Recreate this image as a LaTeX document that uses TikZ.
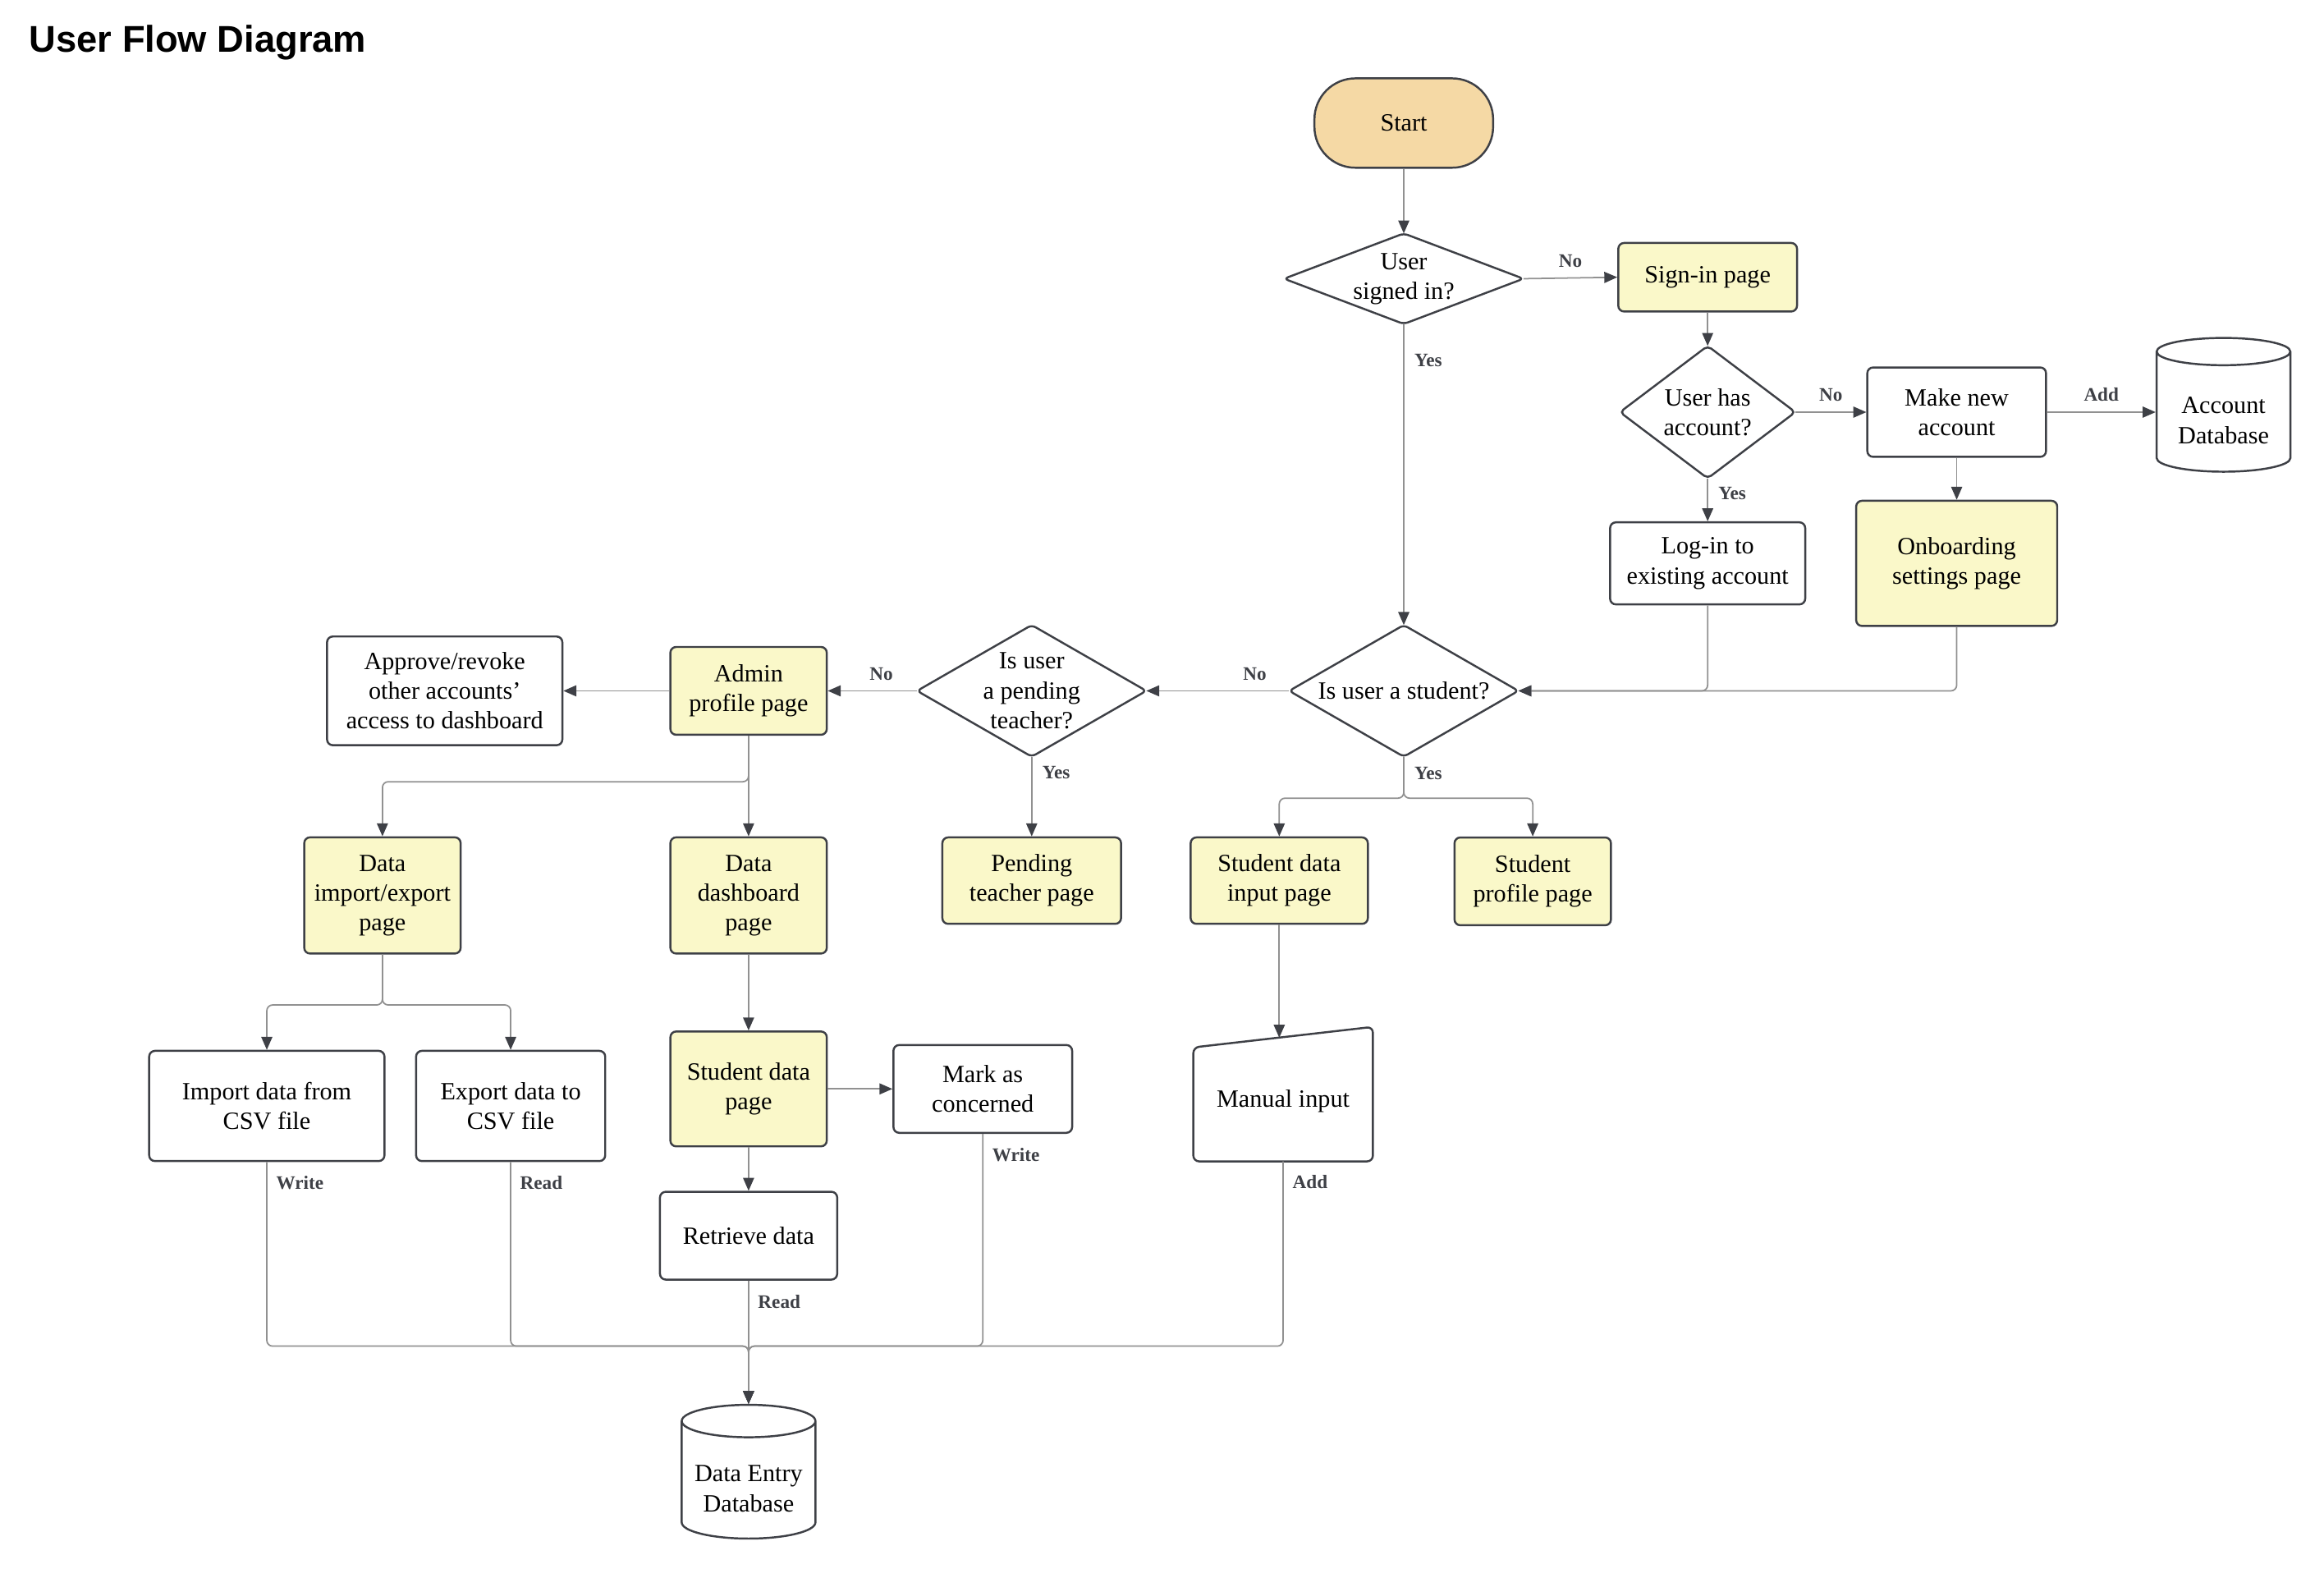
\documentclass[tikz,border=0pt]{standalone}
\usepackage{fontspec}
\setmainfont{Liberation Serif}
\setsansfont{Liberation Sans}
\usetikzlibrary{arrows.meta,shapes.geometric}
\definecolor{edgegray}{RGB}{62,64,70}
\definecolor{linegray}{RGB}{145,145,145}
\definecolor{pageyellow}{RGB}{250,248,201}
\definecolor{startorange}{RGB}{245,217,165}
\begin{document}
\begin{tikzpicture}[>={Stealth[length=4.5pt,width=3.8pt,inset=0pt,color=edgegray]},x=0.01806cm,y=-0.01806cm,
    font=\fontsize{8.6}{10.3}\selectfont,
    box/.style={draw=edgegray,line width=0.7pt,rounded corners=2pt,align=center,inner sep=1pt,fill=white},
    page/.style={box,fill=pageyellow},
    decision/.style={align=center,inner sep=0pt},
    store/.style={cylinder,shape border rotate=90,aspect=0.3,draw=edgegray,line width=0.7pt,
        minimum width=1.63cm,minimum height=1.63cm,align=center,inner sep=0pt,text height=21.8pt},
    link/.style={draw=linegray,line width=0.5pt,rounded corners=2pt},
    lab/.style={font=\fontsize{6.6}{8}\selectfont\bfseries,text=edgegray,inner sep=1.5pt}]
    \useasboundingbox (0,0) rectangle (1567.8,1063.9);
    \node[anchor=west,inner sep=0pt,font=\sffamily\bfseries\fontsize{12.9}{15}\selectfont] (title) at (19.4,29) {User Flow Diagram};
    % top right part
    \node[box,fill=startorange,minimum width=2.178cm,minimum height=1.089cm,rounded corners=0.5cm] (start) at (947,83) {Start};
    \node[decision,minimum width=2.904cm,minimum height=1.089cm] (signed) at (947,188) {User\\signed in?};
    \node[page,minimum width=2.178cm,minimum height=0.835cm] (signin) at (1152,187) {Sign-in page};
    \node[decision,minimum width=2.124cm,minimum height=1.6cm] (hasacc) at (1152,278) {User has\\account?};
    \node[box,minimum width=2.178cm,minimum height=1.089cm] (newacc) at (1320,278) {Make new\\account};
    \node[store] (accdb) at (1500,278) {Account\\Database};
    \node[box,minimum width=2.378cm,minimum height=1.0cm] (login) at (1152,380) {Log-in to\\existing account};
    \node[page,minimum width=2.45cm,minimum height=1.525cm] (onboard) at (1320,380) {Onboarding\\settings page};
    % middle row
    \node[decision,minimum width=2.78cm,minimum height=1.59cm] (stud) at (947,466) {Is user a student?};
    \node[decision,minimum width=2.78cm,minimum height=1.59cm] (pend) at (696,466) {Is user\\a pending\\teacher?};
    \node[page,minimum width=1.906cm,minimum height=1.07cm] (admin) at (505,466) {Admin\\profile page};
    \node[box,minimum width=2.868cm,minimum height=1.325cm] (approve) at (300,466) {Approve/revoke\\other accounts’\\access to dashboard};
    \node[page,minimum width=1.906cm,minimum height=1.416cm] (impexp) at (258,604) {Data\\import/export\\page};
    \node[page,minimum width=1.906cm,minimum height=1.416cm] (dash) at (505,604) {Data\\dashboard\\page};
    \node[page,minimum width=2.178cm,minimum height=1.053cm] (pendpage) at (696,594) {Pending\\teacher page};
    \node[page,minimum width=2.16cm,minimum height=1.053cm] (sdinput) at (863,594) {Student data\\input page};
    \node[page,minimum width=1.906cm,minimum height=1.07cm] (sprofile) at (1034,594.5) {Student\\profile page};
    % bottom part
    \node[box,minimum width=2.868cm,minimum height=1.343cm] (import) at (180,746) {Import data from\\CSV file};
    \node[box,minimum width=2.305cm,minimum height=1.343cm] (export) at (344.5,746) {Export data to\\CSV file};
    \node[page,minimum width=1.906cm,minimum height=1.4cm] (sdpage) at (505,734.5) {Student data\\page};
    \node[box,minimum width=2.178cm,minimum height=1.07cm] (concern) at (663,734.5) {Mark as\\concerned};
    \node[minimum width=2.174cm,minimum height=1.445cm,inner sep=0pt] (manual) at (865.6,743) {Manual input};
    \draw[edgegray,line width=0.7pt,rounded corners=2pt] (manual.south west) -- (manual.south east)
        -- ([yshift=0.18cm]manual.north east) -- ([yshift=-0.07cm]manual.north west) -- cycle;
    \node[box,minimum width=2.16cm,minimum height=1.07cm] (retrieve) at (505,833.5) {Retrieve data};
    \node[store] (dedb) at (505,998.5) {Data Entry\\Database};
    \coordinate (bus) at (505,908);
    \coordinate (mantop) at (863,700);
    \foreach \d in {signed,hasacc,stud,pend}
        \draw[edgegray,line width=0.7pt,rounded corners=1.5pt] (\d.north) -- (\d.east) -- (\d.south) -- (\d.west) -- cycle;
    % connectors
    \draw[link,->] (start) -- (signed);
    \draw[link,->] (signed.east) -- node[lab,above=2pt]{No} (signin.west);
    \draw[link,->] (signin) -- (hasacc);
    \draw[link,->] (hasacc.east) -- node[lab,above=2pt]{No} (newacc.west);
    \draw[link,->] (newacc) -- node[lab,above=2pt]{Add} (accdb);
    \draw[link,->] (newacc) -- (onboard);
    \draw[link,->] (hasacc.south) -- node[lab,right=2pt,pos=0.35]{Yes} (login.north);
    \draw[link,->] (signed.south) -- node[lab,right=2pt,pos=0.12]{Yes} (stud.north);
    \draw[link,->] (login.south) |- (stud.east);
    \draw[link,->] (onboard.south) |- (stud.east);
    \draw[link,->] (stud.west) -- node[lab,above=2pt,pos=0.24]{No} (pend.east);
    \draw[link,->] (pend.west) -- node[lab,above=2pt,pos=0.4]{No} (admin.east);
    \draw[link,->] (admin.west) -- (approve.east);
    \draw[link,->] (pend.south) -- node[lab,right=2pt,pos=0.2]{Yes} (pendpage.north);
    \draw[link,->] (stud.south) -- ++(0,28) node[lab,right=2pt,pos=0.4]{Yes} -| (sdinput.north);
    \draw[link,->] (stud.south) -- ++(0,28) -| (sprofile.north);
    \draw[link,->] (admin.south) -- (dash.north);
    \draw[link,->] (admin.south) -- ++(0,31) -| (impexp.north);
    \draw[link,->] (impexp.south) -- ++(0,34) -| (import.north);
    \draw[link,->] (impexp.south) -- ++(0,34) -| (export.north);
    \draw[link,->] (dash) -- (sdpage);
    \draw[link,->] (sdpage) -- (concern);
    \draw[link,->] (sdpage) -- (retrieve);
    \draw[link,->] (sdinput.south) -- (mantop);
    \foreach \src/\txt in {import/Write,export/Read,retrieve/Read,concern/Write,manual/Add}{
        \draw[link,->] (\src.south) |- (bus) -- (dedb.north);
        \node[lab,anchor=north west] at ([xshift=1.6pt,yshift=-3.2pt]\src.south) {\txt};
    }
\end{tikzpicture}
\end{document}
